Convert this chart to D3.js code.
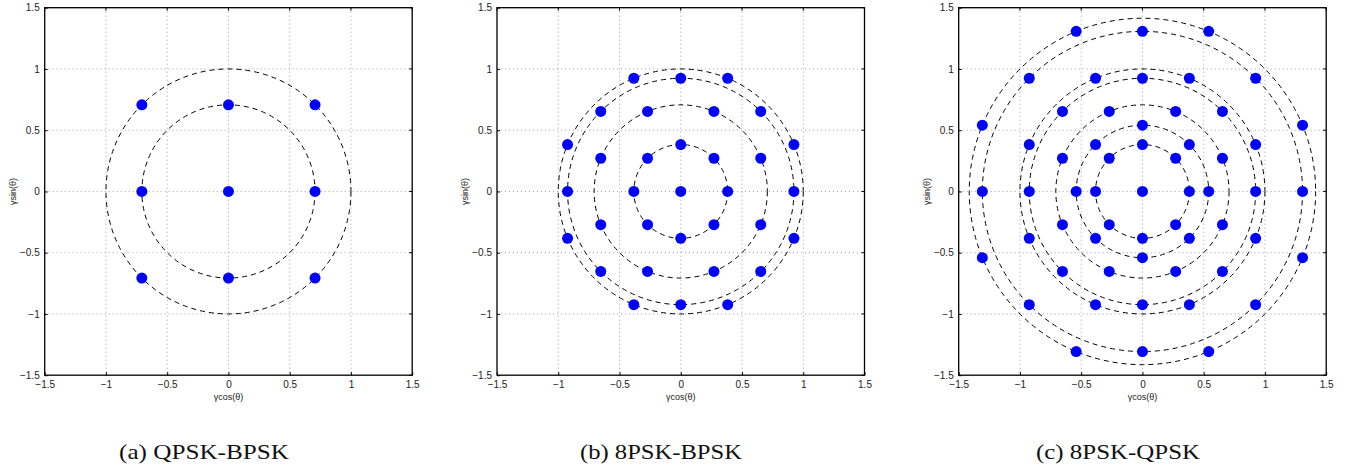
<!DOCTYPE html>
<html>
<head>
<meta charset="utf-8">
<script src="https://cdn.jsdelivr.net/npm/d3@7"></script>
<style>
  body { margin: 0; background: #fff; }
  svg text { font-family: "Liberation Sans", Arial, sans-serif; }
  .caption { font-family: "Liberation Serif", "Times New Roman", serif !important; }
</style>
</head>
<body>
<svg id="chart" width="1353" height="468"></svg>
<script>
// tick values shared by all three panels
const ticks = [-1.5, -1, -0.5, 0, 0.5, 1, 1.5];
const tickLabels = ["\u22121.5", "\u22121", "\u22120.5", "0", "0.5", "1", "1.5"];

// (a) QPSK-BPSK: points as rows [y, [x...]]
const rowsA = [
  [0.707, [-0.707, 0, 0.707]],
  [0, [-0.707, 0, 0.707]],
  [-0.707, [-0.707, 0, 0.707]]
];
const ringsA = [0.707, 1.0];

// (b) 8PSK-BPSK
const rowsB = [
  [0.924, [-0.383, 0, 0.383]],
  [0.653, [-0.653, -0.271, 0.271, 0.653]],
  [0.383, [-0.924, 0, 0.924]],
  [0.271, [-0.653, -0.271, 0.271, 0.653]],
  [0, [-0.924, -0.383, 0, 0.383, 0.924]],
  [-0.271, [-0.653, -0.271, 0.271, 0.653]],
  [-0.383, [-0.924, 0, 0.924]],
  [-0.653, [-0.653, -0.271, 0.271, 0.653]],
  [-0.924, [-0.383, 0, 0.383]]
];
const ringsB = [0.383, 0.707, 0.924, 1.0];

// (c) 8PSK-QPSK
const rowsC = [
  [1.307, [-0.541, 0, 0.541]],
  [0.924, [-0.924, -0.383, 0, 0.383, 0.924]],
  [0.653, [-0.653, -0.271, 0.271, 0.653]],
  [0.541, [-1.307, 0, 1.307]],
  [0.383, [-0.924, -0.383, 0, 0.383, 0.924]],
  [0.271, [-0.653, -0.271, 0.271, 0.653]],
  [0, [-1.307, -0.924, -0.541, -0.383, 0, 0.383, 0.541, 0.924, 1.307]],
  [-0.271, [-0.653, -0.271, 0.271, 0.653]],
  [-0.383, [-0.924, -0.383, 0, 0.383, 0.924]],
  [-0.541, [-1.307, 0, 1.307]],
  [-0.653, [-0.653, -0.271, 0.271, 0.653]],
  [-0.924, [-0.924, -0.383, 0, 0.383, 0.924]],
  [-1.307, [-0.541, 0, 0.541]]
];
const ringsC = [0.383, 0.541, 0.707, 0.924, 1.0, 1.307, 1.414];

const captions = ["(a) QPSK-BPSK", "(b) 8PSK-BPSK", "(c) 8PSK-QPSK"];

const panels = [
  { rows: rowsA, rings: ringsA, left: 44.7, caption: captions[0], capX: 204, capW: 170 },
  { rows: rowsB, rings: ringsB, left: 497, caption: captions[1], capX: 661, capW: 162 },
  { rows: rowsC, rings: ringsC, left: 958.7, caption: captions[2], capX: 1118, capW: 164 }
];

const size = 367.5; // plot box width/height
const boxTop = 7.7;
const svg = d3.select("#chart");

panels.forEach(p => {
  const x = d3.scaleLinear().domain([-1.5, 1.5]).range([p.left, p.left + size]);
  const y = d3.scaleLinear().domain([-1.5, 1.5]).range([boxTop + size, boxTop]);
  const g = svg.append("g");

  // dotted grid
  const inner = ticks.slice(1, -1);
  g.selectAll("line.gx").data(inner).join("line")
    .attr("x1", d => x(d)).attr("x2", d => x(d))
    .attr("y1", boxTop).attr("y2", boxTop + size)
    .attr("stroke", "#999").attr("stroke-width", 0.9)
    .attr("stroke-dasharray", "1,3");
  g.selectAll("line.gy").data(inner).join("line")
    .attr("y1", d => y(d)).attr("y2", d => y(d))
    .attr("x1", p.left).attr("x2", p.left + size)
    .attr("stroke", "#999").attr("stroke-width", 0.9)
    .attr("stroke-dasharray", "1,3");

  // axes (ticks inside, matlab style)
  const xAxis = d3.axisBottom(x).tickValues(ticks).tickSize(-3).tickPadding(6)
    .tickFormat((d, i) => tickLabels[i]);
  const yAxis = d3.axisLeft(y).tickValues(ticks).tickSize(-3).tickPadding(5)
    .tickFormat((d, i) => tickLabels[i]);
  const xa = g.append("g").attr("transform", `translate(0,${boxTop + size})`).call(xAxis);
  const ya = g.append("g").attr("transform", `translate(${p.left},0)`).call(yAxis);
  [xa, ya].forEach(a => {
    a.select(".domain").remove();
    a.selectAll("text").attr("font-size", 10).attr("fill", "#222")
      .attr("font-family", "Liberation Sans, Arial, sans-serif");
    a.selectAll("line").attr("stroke", "#000");
  });
  // top/right ticks
  g.selectAll("line.tt").data(ticks).join("line")
    .attr("x1", d => x(d)).attr("x2", d => x(d))
    .attr("y1", boxTop).attr("y2", boxTop + 3).attr("stroke", "#000");
  g.selectAll("line.tr").data(ticks).join("line")
    .attr("y1", d => y(d)).attr("y2", d => y(d))
    .attr("x1", p.left + size).attr("x2", p.left + size - 3).attr("stroke", "#000");

  // dashed rings
  g.selectAll("circle.ring").data(p.rings).join("circle")
    .attr("cx", x(0)).attr("cy", y(0))
    .attr("r", d => x(d) - x(0))
    .attr("fill", "none").attr("stroke", "#000")
    .attr("stroke-width", 1).attr("stroke-dasharray", "5,4");

  // constellation points
  const pts = p.rows.flatMap(([yv, xs]) => xs.map(xv => [xv, yv]));
  g.selectAll("circle.pt").data(pts).join("circle")
    .attr("cx", d => x(d[0])).attr("cy", d => y(d[1]))
    .attr("r", 5.5).attr("fill", "#0000ff");

  // frame
  g.append("rect")
    .attr("x", p.left).attr("y", boxTop).attr("width", size).attr("height", size)
    .attr("fill", "none").attr("stroke", "#000").attr("stroke-width", 1.3);

  // axis labels
  g.append("text")
    .attr("x", x(0)).attr("y", boxTop + size + 25)
    .attr("text-anchor", "middle").attr("font-size", 9).attr("fill", "#222")
    .text("\u03b3cos(\u03b8)");
  g.append("text")
    .attr("transform", `translate(${p.left - 29},${y(0)}) rotate(-90)`)
    .attr("text-anchor", "middle").attr("font-size", 9).attr("fill", "#222")
    .text("\u03b3sin(\u03b8)");

  // caption
  g.append("text").attr("class", "caption")
    .attr("x", p.capX - p.capW / 2).attr("y", 459)
    .attr("font-size", 21).attr("fill", "#111")
    .attr("textLength", p.capW).attr("lengthAdjust", "spacingAndGlyphs")
    .text(p.caption);
});
</script>
</body>
</html>
